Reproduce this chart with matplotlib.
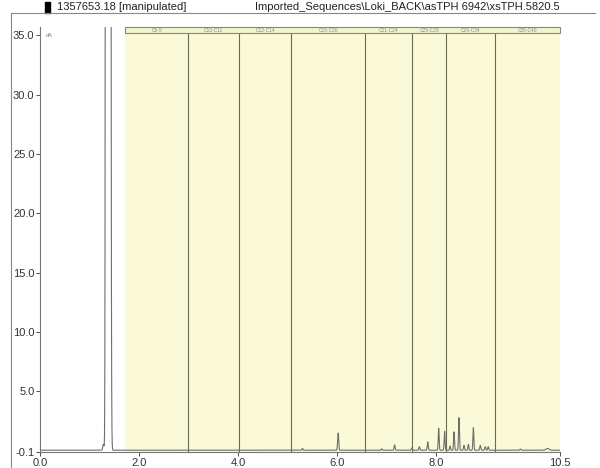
import numpy as np
import matplotlib.pyplot as plt
from matplotlib.patches import Rectangle

plt.rcParams['font.family'] = ['Liberation Sans', 'DejaVu Sans']

# Integration window and carbon range boundaries (minutes)
window = (1.72, 10.5)
boundaries = [2.99, 4.02, 5.07, 6.57, 7.52, 8.20, 9.19]
band_labels = ['C6-9', 'C10-C11', 'C12-C14', 'C15-C20', 'C21-C24', 'C25-C28', 'C29-C34', 'C35-C40']

# Peaks: retention time, height (dA), width
peak_rt = [1.28, 5.30, 6.02, 6.90, 7.16, 7.51, 7.66, 7.83, 8.05, 8.17, 8.28,
           8.36, 8.46, 8.56, 8.65, 8.75, 8.89, 8.99, 9.05, 9.70, 10.25]
peak_h = [0.5, 0.15, 1.45, 0.12, 0.45, 0.2, 0.3, 0.7, 1.85, 1.6, 0.35,
          1.55, 2.75, 0.4, 0.5, 1.9, 0.4, 0.3, 0.3, 0.1, 0.15]
peak_w = [0.012, 0.01, 0.01, 0.01, 0.01, 0.01, 0.01, 0.01, 0.009, 0.009, 0.009,
          0.009, 0.009, 0.009, 0.009, 0.009, 0.01, 0.01, 0.01, 0.012, 0.03]

# Solvent peak (off scale, slightly tailing)
solvent_rt = 1.37
solvent_h = 1.0e4
solvent_w = (0.016, 0.02)
baseline = 0.05

t = np.linspace(0, 10.5, 6000)
signal = np.full_like(t, baseline)
for rt, h, w in zip(peak_rt, peak_h, peak_w):
    signal += h * np.exp(-0.5 * ((t - rt) / w) ** 2)
sw = np.where(t < solvent_rt, solvent_w[0], solvent_w[1])
signal += solvent_h * np.exp(-0.5 * ((t - solvent_rt) / sw) ** 2)

fig = plt.figure(figsize=(6, 4.68), dpi=100)
ax = fig.add_axes([40 / 600, 1 - 452 / 468, 520 / 600, 425 / 468])
ax.set_xlim(0, 10.5)
ax.set_ylim(-0.1, 35.7)

# shaded window with range dividers and header strip
ax.axvspan(window[0], window[1], color='#fafad8', zorder=0)
edges = [window[0]] + boundaries + [window[1]]
for b in boundaries:
    ax.axvline(b, color='#6b6b55', lw=0.8, zorder=1)
ax.add_patch(Rectangle((window[0], 1 - 6 / 425), window[1] - window[0], 6 / 425,
                       transform=ax.get_xaxis_transform(), facecolor='#f4f4cc',
                       edgecolor='#8a8a70', lw=0.8, zorder=2, clip_on=False))
for lab, a, b in zip(band_labels, edges[:-1], edges[1:]):
    ax.text((a + b) / 2, 1 - 3 / 425, lab, transform=ax.get_xaxis_transform(),
            ha='center', va='center', fontsize=3.5, color='#888888', zorder=3)

ax.plot(t, signal, color='#6e6e6e', lw=0.8, zorder=4)

ax.set_xticks([0, 2, 4, 6, 8, 10.5])
ax.set_xticklabels(['0.0', '2.0', '4.0', '6.0', '8.0', '10.5'])
ax.set_yticks([-0.1, 5, 10, 15, 20, 25, 30, 35])
ax.set_yticklabels(['-0.1', '5.0', '10.0', '15.0', '20.0', '25.0', '30.0', '35.0'])
ax.tick_params(labelsize=8, colors='#333333', length=3, width=0.6, pad=1)
for side in ['top', 'right']:
    ax.spines[side].set_visible(False)
for side in ['left', 'bottom']:
    ax.spines[side].set_color('#777777')
    ax.spines[side].set_linewidth(0.8)

ax.text(0.012, 0.985, 'dA', transform=ax.transAxes, fontsize=4, color='#777777', va='top')

# outer frame and header line
fig.add_artist(plt.Line2D([11 / 600, 595 / 600], [1 - 13 / 468] * 2, color='#888888', lw=0.8))
fig.add_artist(plt.Line2D([11 / 600] * 2, [0, 1 - 13 / 468], color='#888888', lw=0.8))
fig.add_artist(Rectangle((45 / 600, 1 - 13 / 468), 5 / 600, 11 / 468, color='black'))
fig.text(57 / 600, 1 - 7 / 468, '1357653.18 [manipulated]', fontsize=8, va='center', color='#222222')
fig.text(560 / 600, 1 - 7 / 468, r'Imported_Sequences\Loki_BACK\asTPH 6942\xsTPH.5820.5',
         fontsize=8, va='center', ha='right', color='#222222')

fig.savefig('out.png', dpi=100)
